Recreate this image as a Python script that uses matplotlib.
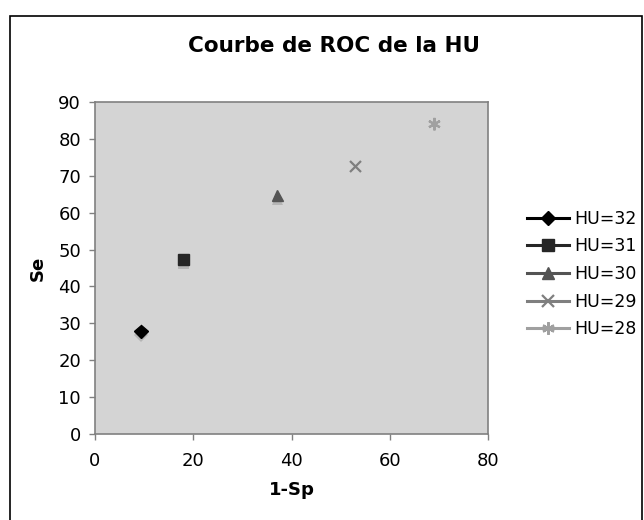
import matplotlib
matplotlib.use("Agg")
import matplotlib.pyplot as plt
import matplotlib.patheffects as pe
from matplotlib.patches import Rectangle

# ROC points, one per HU threshold
labels = ["HU=32", "HU=31", "HU=30", "HU=29", "HU=28"]
one_minus_sp = [9.4, 18.0, 37.1, 53.1, 69.1]
se = [27.8, 47.2, 64.6, 72.5, 84.0]

markers = ["D", "s", "^", "x", (6, 2, 0)]
colors = ["#000000", "#262626", "#545454", "#7f7f7f", "#a0a0a0"]
sizes = [7, 8, 8, 8, 9]

fig = plt.figure(figsize=(6.44, 5.2), dpi=100)
fig.patch.set_facecolor("white")

# outer frame of the chart
fig.patches.append(Rectangle((10 / 644, -0.01), 633 / 644 - 0.001, 1 - 16 / 520 + 0.01,
                             transform=fig.transFigure, fill=False,
                             edgecolor="black", linewidth=1.2))

ax = fig.add_axes([95 / 644, 1 - 434 / 520, 393 / 644, 332 / 520])
ax.set_facecolor("#d4d4d4")

shadow = [pe.SimplePatchShadow(offset=(0, -2.4), shadow_rgbFace="#b0b0b0", alpha=0.85),
          pe.Normal()]

for lab, x, y, m, c, s in zip(labels, one_minus_sp, se, markers, colors, sizes):
    ax.plot([x], [y], linestyle="-", linewidth=2.2, color=c, marker=m,
            markersize=s, markeredgewidth=1.6 if m in ("x", (6, 2, 0)) else 1,
            markerfacecolor=c, markeredgecolor=c, label=lab,
            path_effects=shadow)

ax.set_xlim(0, 80)
ax.set_ylim(0, 90)
ax.set_xticks(range(0, 81, 20))
ax.set_yticks(range(0, 91, 10))
ax.tick_params(direction="out", length=4, width=1, color="#808080",
               labelsize=13, pad=6)
ax.tick_params(axis="x", pad=9)
for sp in ax.spines.values():
    sp.set_color("#808080")
    sp.set_linewidth(1.2)

ax.set_xlabel("1-Sp", fontsize=13, fontweight="bold", labelpad=8)
ax.set_ylabel("Se", fontsize=13, fontweight="bold", labelpad=8)

fig.text(334 / 644, 1 - 46 / 520, "Courbe de ROC de la HU", ha="center",
         va="center", fontsize=15.5, fontweight="bold")

leg = ax.legend(loc="center left", bbox_to_anchor=(0.794, 0.473),
                bbox_transform=fig.transFigure, frameon=False, fontsize=12.5,
                handlelength=2.4, handletextpad=0.33, labelspacing=0.55)
for h in leg.legend_handles:
    h.set_path_effects([])

fig.savefig("out.png", dpi=100)
